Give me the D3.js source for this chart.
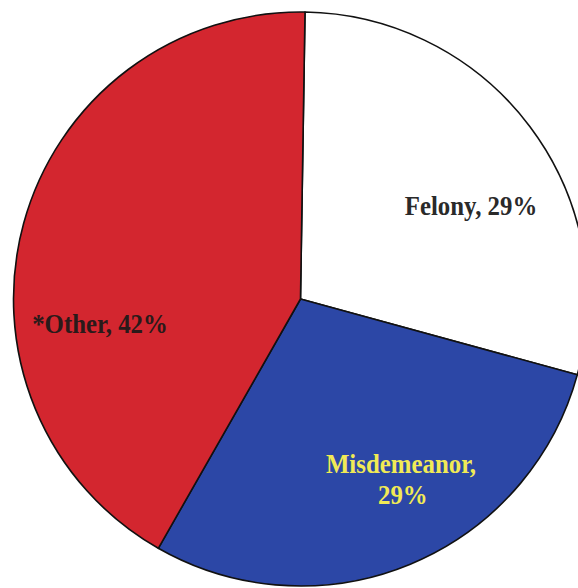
<!DOCTYPE html>
<html><head><meta charset="utf-8">
<script src="https://cdn.jsdelivr.net/npm/d3@7"></script>
<style>body{margin:0;background:#fff}svg{display:block}</style>
</head><body>
<svg id="c" width="578" height="588"></svg>
<script>
const categories = ["Felony", "Misdemeanor", "*Other"];
const values = [29, 29, 42];
const labelLines = [["Felony, 29%"], ["Misdemeanor,", "29%"], ["*Other, 42%"]];
const colors = ["#ffffff", "#2c47a6", "#d3262f"];
const textColors = ["#2a2a2a", "#f1ea55", "#2a1a1a"];

const svg = d3.select("#c");
const cx = 300.5, cy = 299, r = 287;
const g = svg.append("g").attr("transform", `translate(${cx},${cy})`);
const offset = 0.9 * Math.PI / 180;
const pie = d3.pie().sort(null).value(d => d)
  .startAngle(offset).endAngle(offset + 2 * Math.PI);
const arcs = pie(values);
const arc = d3.arc().innerRadius(0).outerRadius(r);
g.selectAll("path").data(arcs).enter().append("path")
  .attr("d", arc).attr("fill", (d, i) => colors[i])
  .attr("stroke", "#111").attr("stroke-width", 1.6).attr("stroke-linejoin", "round");

// label anchor (first baseline) positions, relative to the pie centre
const labelPos = [[471 - cx, 215 - cy], [401 - cx, 473 - cy], [100 - cx, 333 - cy]];
arcs.forEach((a, i) => {
  const [x, y] = labelPos[i];
  const t = g.append("text").attr("text-anchor", "middle")
    .attr("transform", `translate(${x},${y}) scale(0.92,1)`)
    .attr("font-family", "'Liberation Serif', 'Times New Roman', serif")
    .attr("font-weight", "bold").attr("font-size", 27)
    .attr("fill", textColors[i]);
  labelLines[i].forEach((line, j) => {
    t.append("tspan").attr("x", j ? 2 : 0).attr("y", j * 31).text(line);
  });
});
</script>
</body></html>
